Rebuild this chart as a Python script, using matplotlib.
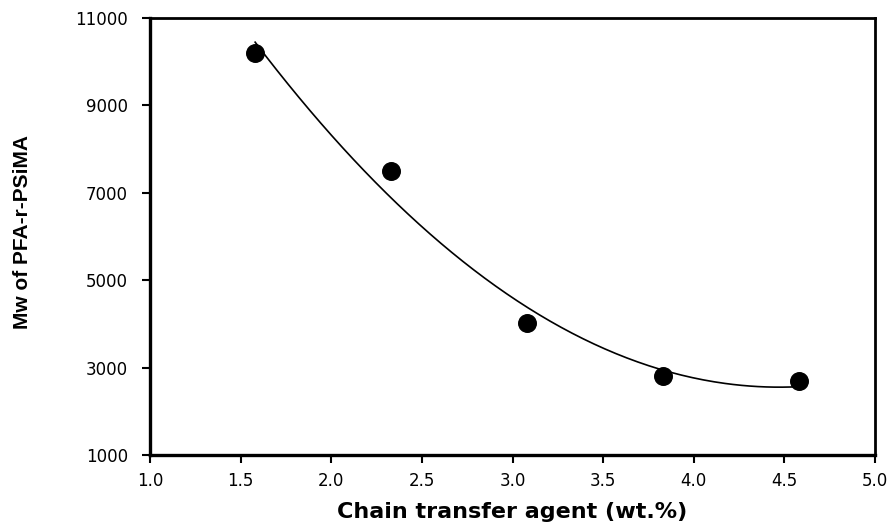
import numpy as np
import matplotlib
matplotlib.use("Agg")
import matplotlib.pyplot as plt
from matplotlib import font_manager

# Chain transfer agent loading (wt.%) and weight-average molecular weight
cta_wt = [1.58, 2.33, 3.08, 3.83, 4.58]
mw_values = [10200, 7500, 4020, 2810, 2690]

x_ticks = [1.0, 1.5, 2.0, 2.5, 3.0, 3.5, 4.0, 4.5, 5.0]
y_ticks = [1000, 3000, 5000, 7000, 9000, 11000]

installed = {f.name for f in font_manager.fontManager.ttflist}
narrow = 'Liberation Sans Narrow' if 'Liberation Sans Narrow' in installed else 'Liberation Sans'

plt.rcParams['font.family'] = ['DejaVu Sans']

fig = plt.figure(figsize=(8.95, 5.30), dpi=100)
ax = fig.add_axes([0.1676, 0.1415, 0.8101, 0.8245])

# second-order polynomial trendline through the measurements
coef = np.polyfit(cta_wt, mw_values, 2)
xs = np.linspace(min(cta_wt), max(cta_wt), 200)
ax.plot(xs, np.polyval(coef, xs), color='black', lw=1.2, zorder=2)

ax.scatter(cta_wt, mw_values, s=160, color='black', zorder=3)

ax.set_xlim(1.0, 5.0)
ax.set_ylim(1000, 11000)
ax.set_xticks(x_ticks)
ax.set_xticklabels([f"{t:.1f}" for t in x_ticks])
ax.set_yticks(y_ticks)
ax.set_yticklabels([str(t) for t in y_ticks])

ax.tick_params(direction='out', length=6, width=1.5, labelsize=12)
ax.tick_params(axis='y', pad=10)
ax.tick_params(axis='x', pad=6)
for side in ['left', 'bottom']:
    ax.spines[side].set_linewidth(2.4)
for side in ['top', 'right']:
    ax.spines[side].set_linewidth(2.0)

ax.set_xlabel('Chain transfer agent (wt.%)', fontsize=16, fontweight='bold')
ax.xaxis.set_label_coords(0.5, -0.108)
ax.set_ylabel('Mw of PFA-r-PSiMA', fontsize=15, fontweight='bold', family=[narrow, 'DejaVu Sans'])
ax.yaxis.set_label_coords(-0.163, 0.51)

fig.savefig('out.png', dpi=100)
